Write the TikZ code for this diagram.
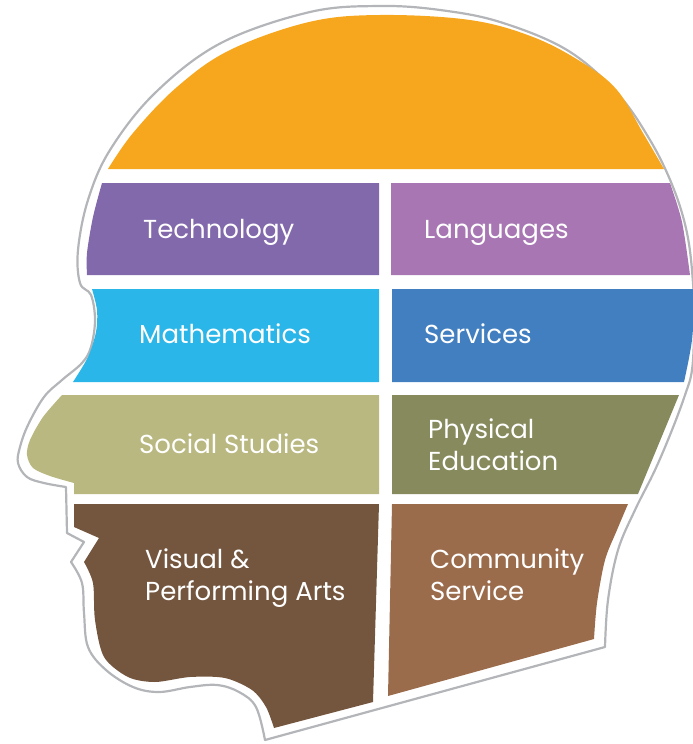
\documentclass[tikz,border=0pt]{standalone}
\usepackage{fontspec}
\setmainfont{Poppins}
\usepackage{xcolor}
\usepackage{tikz}
\definecolor{headgray}{HTML}{B3B5B8}
\definecolor{crown}{HTML}{F7A71E}
\definecolor{techcol}{HTML}{8269AC}
\definecolor{langcol}{HTML}{A776B3}
\definecolor{mathcol}{HTML}{2AB6E8}
\definecolor{servcol}{HTML}{427FC1}
\definecolor{socialcol}{HTML}{B9B880}
\definecolor{physcol}{HTML}{878A5C}
\definecolor{artscol}{HTML}{74563F}
\definecolor{commcol}{HTML}{9B6C4C}
\tikzstyle{outline} = [draw=headgray, line width=2.2pt, line join=round]
\tikzstyle{subject} = [text=white, anchor=base west, align=left, inner sep=0pt, font=\fontsize{26}{32}\selectfont]

\begin{document}
\begin{tikzpicture}[x=1pt, y=-1pt]
\useasboundingbox (0,0) rectangle (693,744);

% Head outline
\draw [outline] (265,740) -- (605,647)
  -- plot[smooth, tension=0.6] coordinates {(605,647) (608,600) (618,550) (635,510) (655,470) (672,430) (685,395) (692,370) (694,330) (693,283) (687,233) (673,187) (650,140) (617,93) (567,50) (500,22) (440,10) (380,6) (310,12) (221,43) (155,93) (110,150) (88,200) (78,250) (80,283) (91,295) (95,320) (91,347) (82,363) (62,380) (44,397) (28,425) (20,447) (18,463) (27,477) (44,483) (66,487)}
  -- (67,533) -- (84,542) -- (71,562)
  -- plot[smooth, tension=0.6] coordinates {(71,562) (82,583) (84,613) (88,647) (106,670) (133,687) (159,692) (190,687) (217,685) (239,692) (256,707) (265,740)}
  -- cycle;

% Crown
\fill [crown] (108,169) -- (664,169) -- plot[smooth, tension=0.6] coordinates {(664,169) (643,133) (617,90) (583,63) (533,37) (470,20) (380,15) (309,22) (230,50) (177,87) (133,133) (108,169)} -- cycle;

% First row
\fill [techcol] (102,183) -- (379,183) -- (379,275) -- (87,275) -- plot[smooth] coordinates {(87,275) (87,253) (93,217) (102,183)} -- cycle;
\fill [langcol] (391,183) -- (670,183) -- plot[smooth] coordinates {(670,183) (682,222) (690,275)} -- (391,275) -- cycle;

% Second row
\fill [mathcol] (92,289) -- (379,289) -- (379,382) -- (73,382) -- plot[smooth] coordinates {(73,382) (88,357) (96,332) (97,310) (92,289)} -- cycle;
\fill [servcol] (392,289) -- (695,289) -- plot[smooth] coordinates {(695,289) (692,340) (684,382)} -- (392,382) -- cycle;

% Third row
\fill [socialcol] (62,395) -- (379,395) -- (379,494) -- (74,494) -- (74,483) -- plot[smooth] coordinates {(74,483) (50,476) (33,468) (27,455) (30,440) (43,417) (62,395)} -- cycle;
\fill [physcol] (392,395) -- (679,395) -- (638,494) -- (392,494) -- cycle;

% Fourth row
\fill [artscol] (74,504) -- (379,504) -- (373,702) -- (274,728) -- plot[smooth] coordinates {(274,728) (266,707) (252,690) (225,678) (190,677) (155,682) (128,677) (104,657) (95,620) (93,583) (84,562)} -- (99,538) -- (74,527) -- cycle;
\fill [commcol] (392,504) -- (628,504) -- plot[smooth] coordinates {(628,504) (617,530) (605,560) (597,603) (594,639)} -- (388,696) -- cycle;

% Labels
\node (tech) [subject] at (143,238) {Technology};
\node (lang) [subject] at (424,238) {Languages};
\node (math) [subject] at (139,343) {Mathematics};
\node (serv) [subject] at (424,343) {Services};
\node (social) [subject] at (139,453) {Social Studies};
\node (phys) [subject] at (428,470) {Physical\\Education};
\node (arts) [subject] at (145,600) {Visual \&\\Performing Arts};
\node (comm) [subject] at (430,600) {Community\\Service};

\end{tikzpicture}
\end{document}
